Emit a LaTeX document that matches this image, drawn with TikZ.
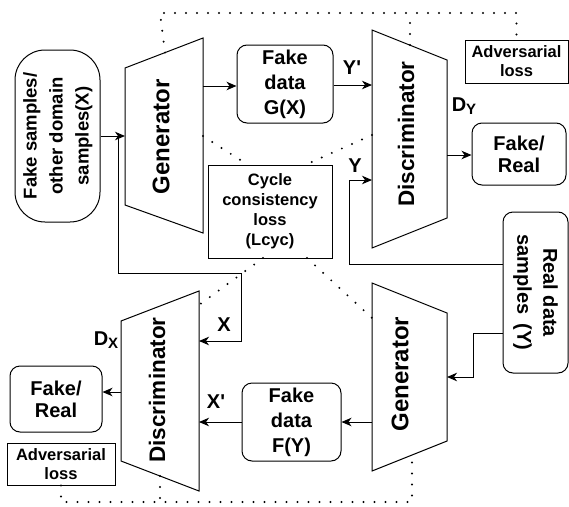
\documentclass[tikz,border=0pt]{standalone}
\usepackage{fontspec}
\setmainfont{Liberation Sans}
\usetikzlibrary{arrows.meta}
\begin{document}
\begin{tikzpicture}[x=1pt,y=-1pt,
  box/.style={draw, line width=1pt, align=center, inner sep=0pt},
  rbox/.style={box, rounded corners=10pt},
  trapnode/.style={inner sep=0pt, outer sep=0pt},
  trap/.style={draw, line width=1pt, line join=miter},
  conn/.style={line width=1pt, -{Stealth[length=10pt,width=8.5pt,inset=3pt]}},
  plain/.style={line width=1pt},
  dots/.style={line width=2.2pt, line cap=round, dash pattern=on 0pt off 11pt},
  ftw/.style={font=\bfseries\fontsize{20}{25}\selectfont},
  ffr/.style={font=\bfseries\fontsize{20}{22}\selectfont},
  fadv/.style={font=\bfseries\fontsize{16.5}{19}\selectfont},
  fcyc/.style={font=\bfseries\fontsize{16.5}{20}\selectfont},
  fgen/.style={font=\bfseries\fontsize{24}{28}\selectfont},
  fdis/.style={font=\bfseries\fontsize{22.5}{26}\selectfont},
  flab/.style={font=\bfseries\fontsize{20}{22}\selectfont, inner sep=0pt},
]
\path[use as bounding box, fill=white] (0,0) rectangle (569,506);

% trapezoid outlines
\draw[trap] (125,68) -- (203,38) -- (203,233) -- (125,205) -- cycle;
\draw[trap] (372,30) -- (447,60) -- (447,218) -- (372,248) -- cycle;
\draw[trap] (121,321) -- (199,291) -- (199,491) -- (121,461) -- cycle;
\draw[trap] (372,283) -- (447,313) -- (447,441) -- (372,471) -- cycle;

% invisible trapezoid extents (for connectors)
\node[trapnode, minimum width=78pt, minimum height=195pt] (g1) at (164,135.5) {};
\node[trapnode, minimum width=75pt, minimum height=218pt] (d1) at (409.5,139) {};
\node[trapnode, minimum width=78pt, minimum height=200pt] (d2) at (160,391) {};
\node[trapnode, minimum width=75pt, minimum height=188pt] (g2) at (409.5,377) {};

% trapezoid texts
\node[fgen, rotate=90] (g1t) at (161,137) {Generator};
\node[fdis, rotate=90] (d1t) at (406,134) {Discriminator};
\node[fdis, rotate=90] (d2t) at (157,390) {Discriminator};
\node[fgen, rotate=90] (g2t) at (400,374) {Generator};

% boxes
\node[box, rounded corners=30pt, minimum width=85pt, minimum height=172pt] (fs) at (57.5,136)
  {\rotatebox{90}{\fontsize{18.5}{26}\bfseries\selectfont\begin{tabular}{@{}c@{}}Fake samples/\\other domain\\samples(X)\end{tabular}}};
\node[rbox, ftw, minimum width=96pt, minimum height=78pt] (fg) at (285,84) {Fake\\data\\G(X)};
\node[rbox, ftw, minimum width=99pt, minimum height=78pt] (ff) at (291.5,422) {Fake\\data\\F(Y)};
\node[box, fcyc, minimum width=124pt, minimum height=93pt] (cyc) at (270,211.5) {Cycle\\consistency\\loss\\(Lcyc)};
\node[rbox, ffr, minimum width=94pt, minimum height=62pt] (fr1) at (519,154) {Fake/\\Real};
\node[rbox, ffr, minimum width=92pt, minimum height=66pt] (fr2) at (56,399) {Fake/\\Real};
\node[box, fadv, minimum width=103pt, minimum height=43pt] (adv1) at (516.5,61.5) {Adversarial\\loss};
\node[box, fadv, minimum width=108pt, minimum height=42pt] (adv2) at (61,464) {Adversarial\\loss};
\node[rbox, minimum width=65pt, minimum height=161pt] (rd) at (535.5,292.5)
  {\rotatebox{-90}{\fontsize{20}{26}\bfseries\selectfont\begin{tabular}{@{}c@{}}Real data\\samples\hspace{0.2em} (Y)\end{tabular}}};

% labels
\node[flab] (lyp) at (352,68) {Y\textquotesingle};
\node[flab] (ly) at (355,166) {Y};
\node[flab] (lx) at (224,325) {X};
\node[flab] (lxp) at (216,402) {X\textquotesingle};
\node[flab] (ldy) at (464,106) {D\raisebox{-3pt}{\fontsize{15}{15}\selectfont Y}};
\node[flab] (ldx) at (106,340) {D\raisebox{-3pt}{\fontsize{15}{15}\selectfont X}};

% connectors
\coordinate (j1) at (118,136);
\draw[conn] (fs.east) -- (fs.east -| g1.west);
\draw[conn] (j1) |- (241,273) |- (d2.east |- 0,341);
\draw[conn] (g1.east |- 0,86) -- (fg.west |- 0,86);
\draw[conn] (fg.east |- 0,85) -- (d1.west |- 0,85);
\draw[conn] (rd.west |- 0,264) -| (349,180) -- (d1.west |- 0,180);
\draw[conn] (d1.east |- 0,155) -- (fr1.west |- 0,155);
\draw[conn] (rd.west |- 0,333) -| (473,377) -- (g2.east |- 0,377);
\draw[conn] (g2.west |- 0,422) -- (ff.east |- 0,422);
\draw[conn] (ff.west |- 0,422) -- (d2.east |- 0,422);
\draw[conn] (d2.west |- 0,392) -- (fr2.east |- 0,392);

% dotted loss links
\draw[dots] (165,52.6) -- (160,13) -- (adv1.north |- 0,13) -- (adv1.north);
\draw[dots] (410,45) -- (410,13);
\draw[dots] (203,136) -- (248,165);
\draw[dots] (372,135) -- (305,165);
\draw[dots] (307,258) -- (372,318);
\draw[dots] (263,258) -- (199,305);
\draw[dots] (adv2.south) -- (adv2.south |- 0,502) -- (412,502) -- (412,455);
\draw[dots] (160,476) -- (160,502);
\end{tikzpicture}
\end{document}
